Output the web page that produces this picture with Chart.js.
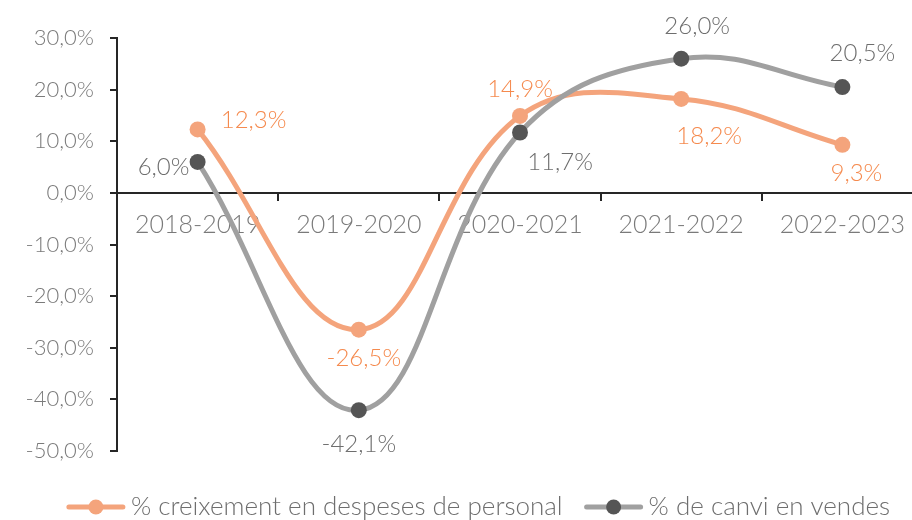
<!DOCTYPE html>
<html>
<head>
<meta charset="utf-8">
<script src="https://cdn.jsdelivr.net/npm/chart.js@4.4.1/dist/chart.umd.min.js"></script>
<style>
  html, body { margin: 0; padding: 0; background: #fff; overflow: hidden; }
  #wrap { width: 931px; height: 520px; }
</style>
</head>
<body>
<div id="wrap"><canvas id="grafic"></canvas></div>
<script>
// Dades del gràfic
const periodes = ['2018-2019', '2019-2020', '2020-2021', '2021-2022', '2022-2023'];
const despesesPersonal = [12.3, -26.5, 14.9, 18.2, 9.3];
const canviVendes = [6.0, -42.1, 11.7, 26.0, 20.5];
const nomSerie1 = '% creixement en despeses de personal';
const nomSerie2 = '% de canvi en vendes';

// Colors
const taronja = '#f4a47c';
const taronjaText = '#f58a4e';
const grisLinia = '#a0a0a0';
const grisPunt = '#555555';
const grisText = '#6e6e6e';
const grisEix = '#7a7a7a';
const eix = '#262626';
const FONT = 'Lato';

// desplaçament de les etiquetes respecte al punt (dx, dy)
const posEtiq = [
  [[56, -9], [5, 29], [0, -27], [28, 37], [14, 28]],
  [[-34, 5], [0, 34], [40, 30], [16, -32], [20, -34]]
];

const fmt = v => v.toFixed(1).replace('.', ',') + '%';

const etiquetes = {
  id: 'etiquetes',
  afterDatasetsDraw(chart) {
    const ctx = chart.ctx;
    ctx.save();
    ctx.font = '300 24px ' + FONT;
    ctx.textAlign = 'center';
    ctx.textBaseline = 'middle';
    chart.data.datasets.forEach((ds, i) => {
      const meta = chart.getDatasetMeta(i);
      ctx.fillStyle = i === 0 ? taronjaText : grisText;
      meta.data.forEach((pt, j) => {
        const off = posEtiq[i][j];
        ctx.fillText(fmt(ds.data[j]), pt.x + off[0], pt.y + off[1]);
      });
    });
    ctx.restore();
  }
};

// llegenda dibuixada a mà (línia + punt com a Excel)
const llegenda = {
  id: 'llegenda',
  afterDraw(chart) {
    const ctx = chart.ctx;
    const y = 507;
    const simbol = 60, gapText = 5, gapItem = 21;
    ctx.save();
    ctx.font = '300 26px ' + FONT;
    ctx.textBaseline = 'middle';
    const ds = chart.data.datasets;
    const amples = ds.map(d => ctx.measureText(d.label).width);
    const total = amples.reduce((a, w) => a + simbol + gapText + w, 0) + gapItem * (ds.length - 1);
    let x = 478 - total / 2;
    ds.forEach((d, i) => {
      ctx.strokeStyle = d.borderColor;
      ctx.lineWidth = 5;
      ctx.lineCap = 'round';
      ctx.beginPath(); ctx.moveTo(x + 3, y); ctx.lineTo(x + simbol - 3, y); ctx.stroke();
      ctx.fillStyle = d.pointBackgroundColor;
      ctx.beginPath(); ctx.arc(x + simbol / 2, y, 7.5, 0, Math.PI * 2); ctx.fill();
      x += simbol + gapText;
      ctx.fillStyle = grisText;
      ctx.fillText(d.label, x, y);
      x += amples[i] + gapItem;
    });
    ctx.restore();
  }
};

new Chart(document.getElementById('grafic'), {
  type: 'line',
  data: {
    labels: periodes,
    datasets: [
      {
        label: nomSerie1,
        data: despesesPersonal,
        borderColor: taronja,
        backgroundColor: taronja,
        borderWidth: 5,
        pointRadius: 8,
        pointBorderWidth: 0,
        pointBackgroundColor: taronja,
        tension: 0.4,
        order: 2
      },
      {
        label: nomSerie2,
        data: canviVendes,
        borderColor: grisLinia,
        backgroundColor: grisPunt,
        borderWidth: 5,
        pointRadius: 8,
        pointBorderWidth: 0,
        pointBackgroundColor: grisPunt,
        tension: 0.4,
        order: 1
      }
    ]
  },
  options: {
    responsive: true,
    maintainAspectRatio: false,
    animation: false,
    layout: { padding: { top: 38, right: 0, bottom: 69, left: 0 } },
    plugins: {
      title: { display: false },
      tooltip: { enabled: false },
      legend: { display: false }
    },
    scales: {
      x: {
        type: 'category',
        position: { y: 0 },
        offset: true,
        grid: { offset: true, drawOnChartArea: false, drawTicks: true, tickLength: 7, color: eix, lineWidth: 2 },
        border: { color: eix, width: 2 },
        ticks: { color: grisEix, font: { family: FONT, size: 25, weight: '300' }, padding: 10, maxRotation: 0, autoSkip: false }
      },
      y: {
        min: -50,
        max: 30,
        afterFit(scale) { scale.width = 117; },
        grid: { drawOnChartArea: false, drawTicks: true, tickLength: 7, color: eix, lineWidth: 2 },
        border: { color: eix, width: 2 },
        ticks: {
          stepSize: 10,
          color: grisEix,
          padding: 16,
          font: { family: FONT, size: 22, weight: '300' },
          callback: v => fmt(v)
        }
      }
    }
  },
  plugins: [etiquetes, llegenda]
});
</script>
</body>
</html>
